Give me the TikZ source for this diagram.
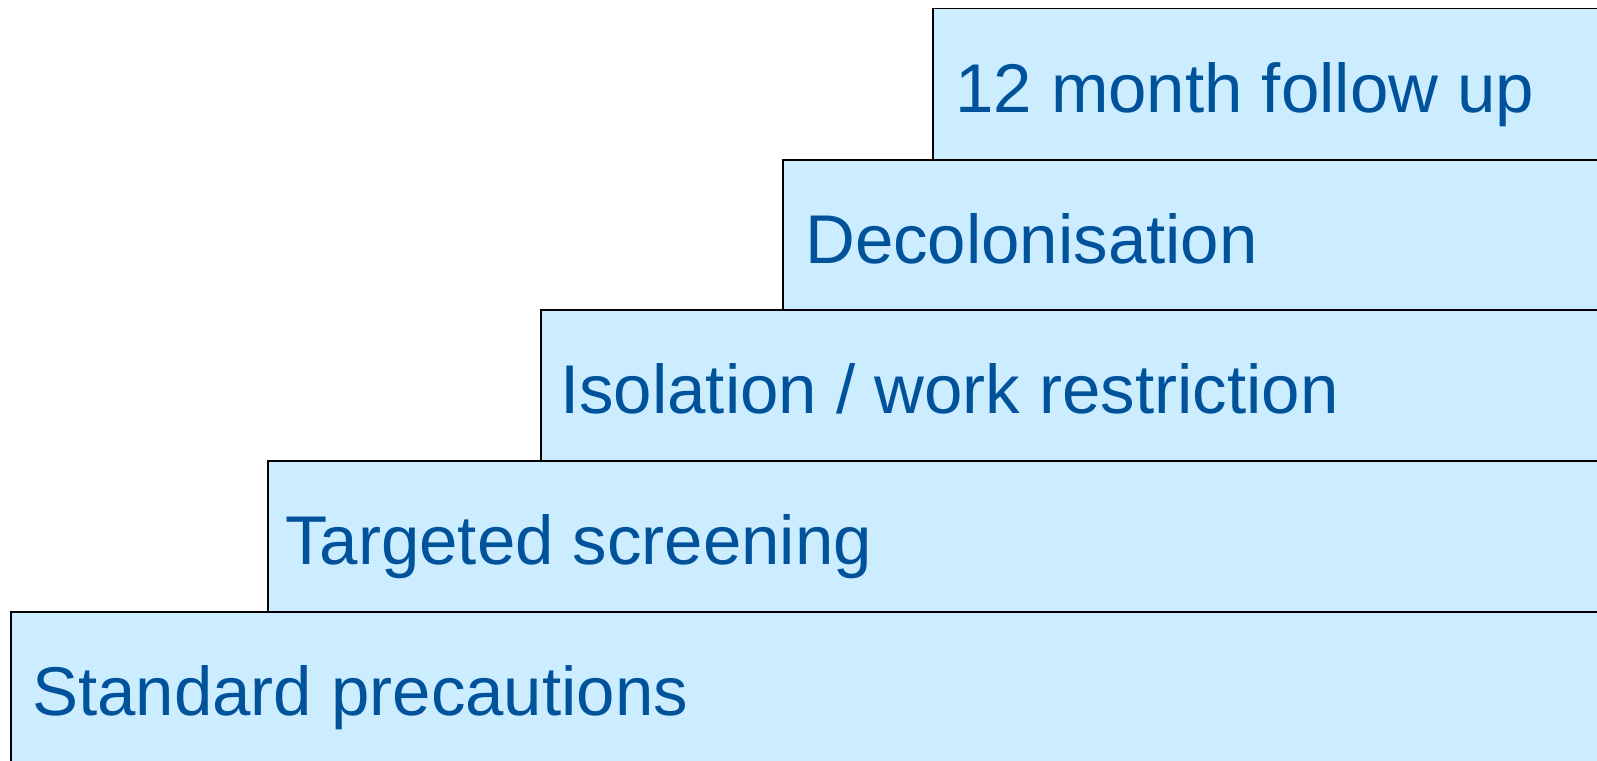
\documentclass[tikz,border=0pt]{standalone}
\usepackage{fontspec}
\setmainfont{Liberation Sans}
\definecolor{stepfill}{HTML}{CCECFF}
\definecolor{steptext}{HTML}{00529B}
\begin{document}
\begin{tikzpicture}[x=1pt,y=-1pt,
  stepbox/.style={draw=black,line width=1.8pt,fill=stepfill},
  steplabel/.style={anchor=base west,inner sep=0pt,text=steptext,font=\fontsize{69}{80}\selectfont}]
\useasboundingbox (0,0) rectangle (1597,760);
\clip (0,0) rectangle (1597,760);
\path[stepbox] (933,8.5) rectangle (1610,160) node[pos=0,anchor=north west,inner sep=0pt] (b5) {};
\path[stepbox] (783,160) rectangle (1610,310) node[pos=0,anchor=north west,inner sep=0pt] (b4) {};
\path[stepbox] (541,310) rectangle (1610,461) node[pos=0,anchor=north west,inner sep=0pt] (b3) {};
\path[stepbox] (268,461) rectangle (1610,612) node[pos=0,anchor=north west,inner sep=0pt] (b2) {};
\path[stepbox] (11,612) rectangle (1610,780) node[pos=0,anchor=north west,inner sep=0pt] (b1) {};
\node[steplabel] (t5) at (955,112) {12 month follow up};
\node[steplabel] (t4) at (805,263) {Decolonisation};
\node[steplabel] (t3) at (560,413) {Isolation / work restriction};
\node[steplabel] (t2) at (285,564) {Targeted screening};
\node[steplabel] (t1) at (32,715) {Standard precautions};
\end{tikzpicture}
\end{document}
